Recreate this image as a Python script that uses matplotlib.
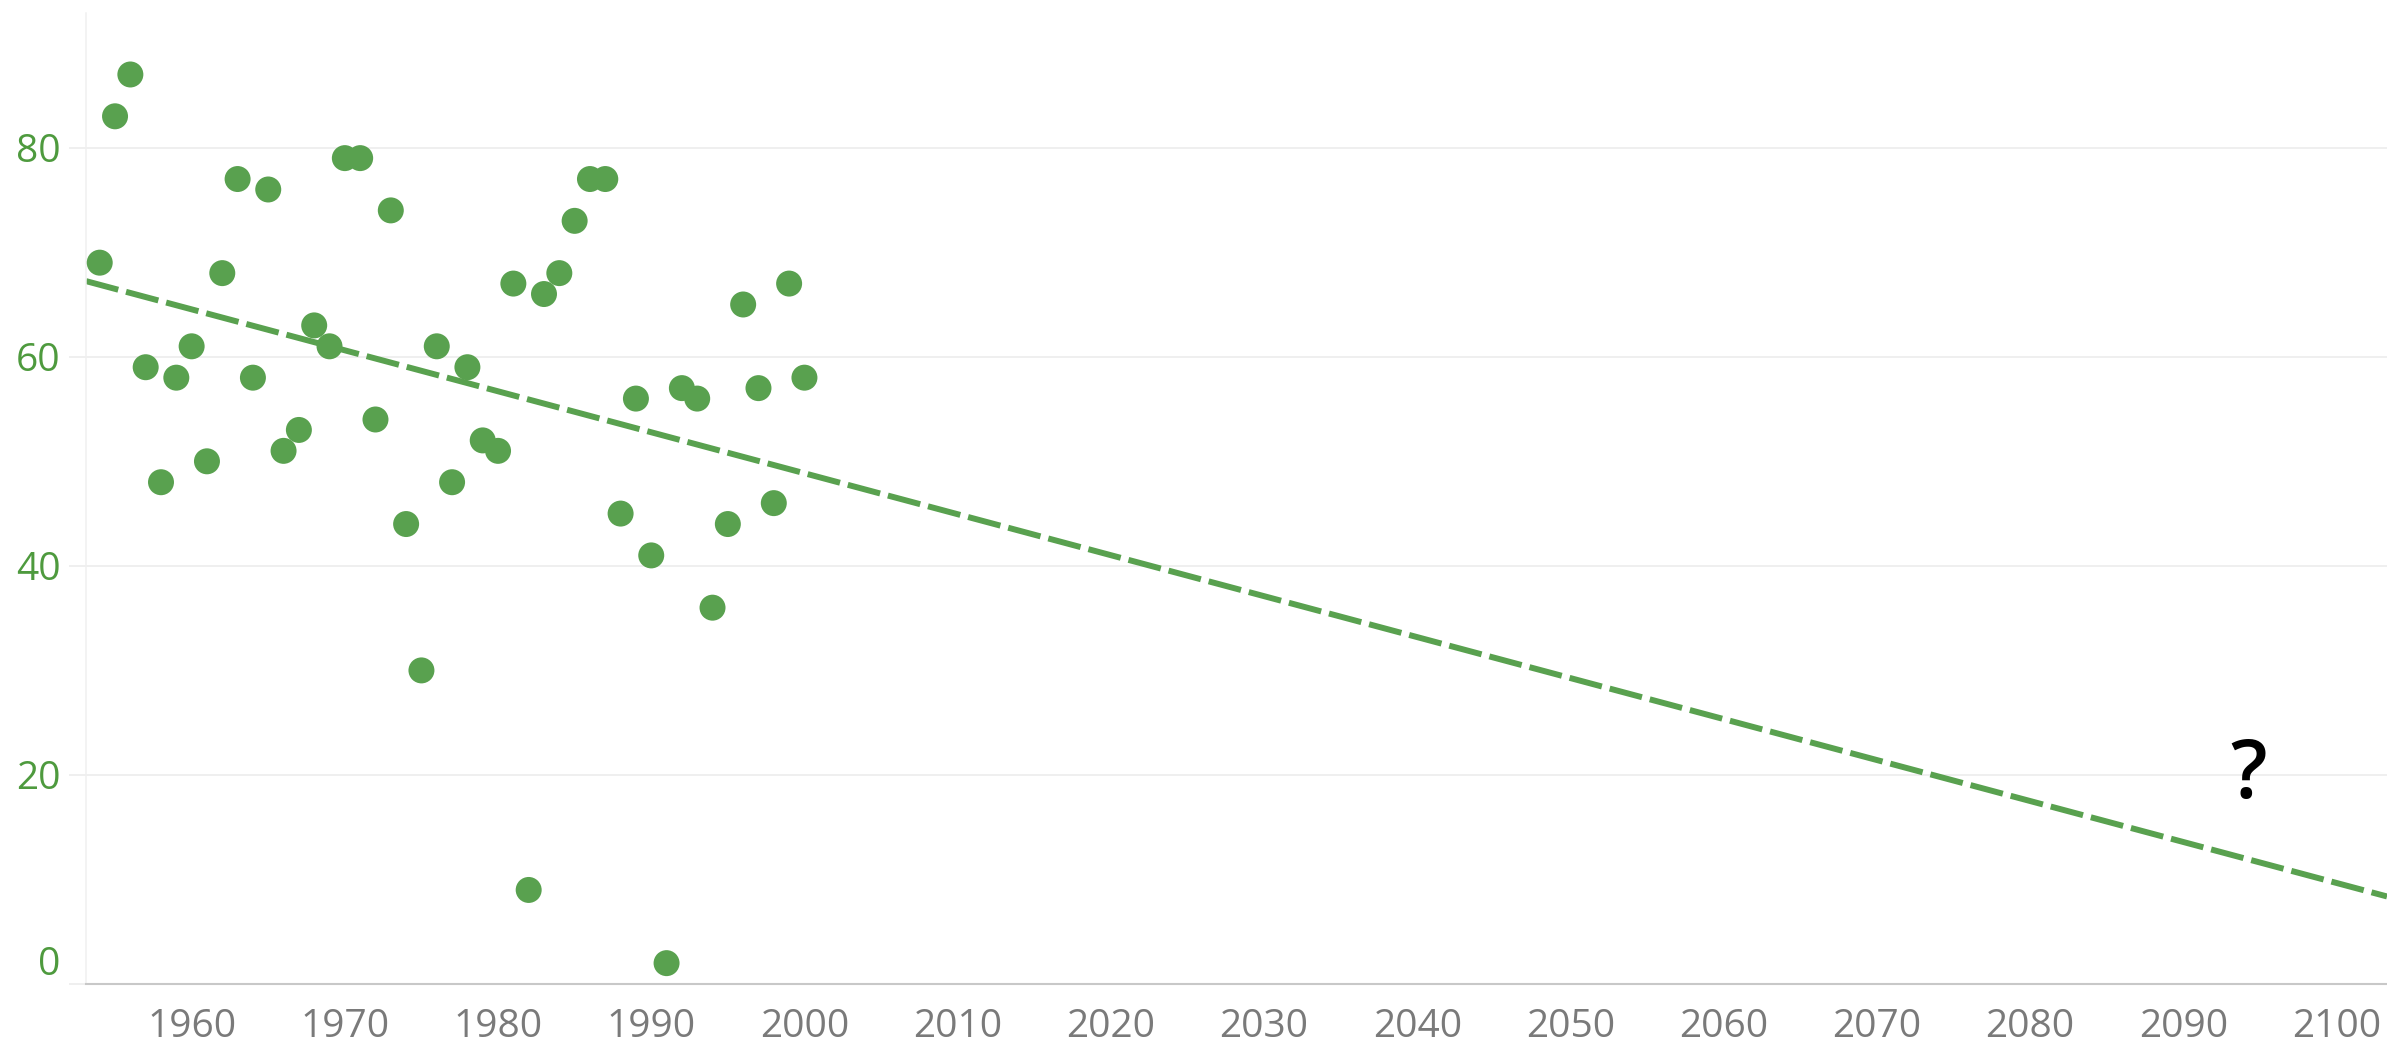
import numpy as np
import matplotlib.pyplot as plt

plt.rcParams['font.family'] = ['Open Sans', 'DejaVu Sans']

# one value per year
years = np.arange(1954, 2001)
values = [69, 83, 87, 59, 48, 58, 61, 50, 68, 77,
          58, 76, 51, 53, 63, 61, 79, 79, 54, 74,
          44, 30, 61, 48, 59, 52, 51, 67, 9, 66,
          68, 73, 77, 77, 45, 56, 41, 2, 57, 56,
          36, 44, 65, 57, 46, 67, 58]

x_ticks = list(range(1960, 2101, 10))
y_ticks = [0, 20, 40, 60, 80]

green = '#59A14F'
grid_c = '#EFEFEF'

fig = plt.figure(figsize=(23.87, 10.58), dpi=100)
ax = fig.add_axes([0.036, 0.0699, 0.964, 0.918])

xmin, xmax = 1953.1, 2103.3
ax.set_xlim(xmin, xmax)
ax.set_ylim(0, 92.9)

# linear trend through the points, carried to the right edge
slope, icpt = np.polyfit(years, values, 1)
xs = np.array([xmin, xmax])
trend, = ax.plot(xs, slope * xs + icpt, color=green, lw=4.3,
                 solid_capstyle='butt', dash_capstyle='butt', zorder=2)
trend.set_dashes((5.6, 1.35))

ax.scatter(years, values, s=350, color=green, edgecolors='none', zorder=3)

ax.text(2094.3, 19.8, '?', fontsize=58, fontweight='semibold',
        color='black', ha='center', va='center')

ax.set_xticks(x_ticks)
ax.set_xticklabels([str(t) for t in x_ticks])
ax.set_yticks(y_ticks)
ax.set_yticklabels([str(t) for t in y_ticks])

ax.tick_params(axis='x', length=0, pad=17, labelsize=28, labelcolor='#7A7A7A')
ax.tick_params(axis='y', length=12.2, width=1.4, color=grid_c, pad=6,
               labelsize=28, labelcolor='#4E9A3E')

ax.grid(axis='y', color=grid_c, lw=1.4, zorder=0)
ax.set_axisbelow(True)

for side in ['top', 'right']:
    ax.spines[side].set_visible(False)
ax.spines['left'].set_color('#F0F0F0')
ax.spines['left'].set_linewidth(1.1)
ax.spines['bottom'].set_color('#C8C8C8')
ax.spines['bottom'].set_linewidth(1.5)

# bottom label sits above the axis line, as in the original
for lab in ax.get_yticklabels():
    if lab.get_text() == '0':
        lab.set_va('bottom')

fig.savefig('out.png', dpi=100)
